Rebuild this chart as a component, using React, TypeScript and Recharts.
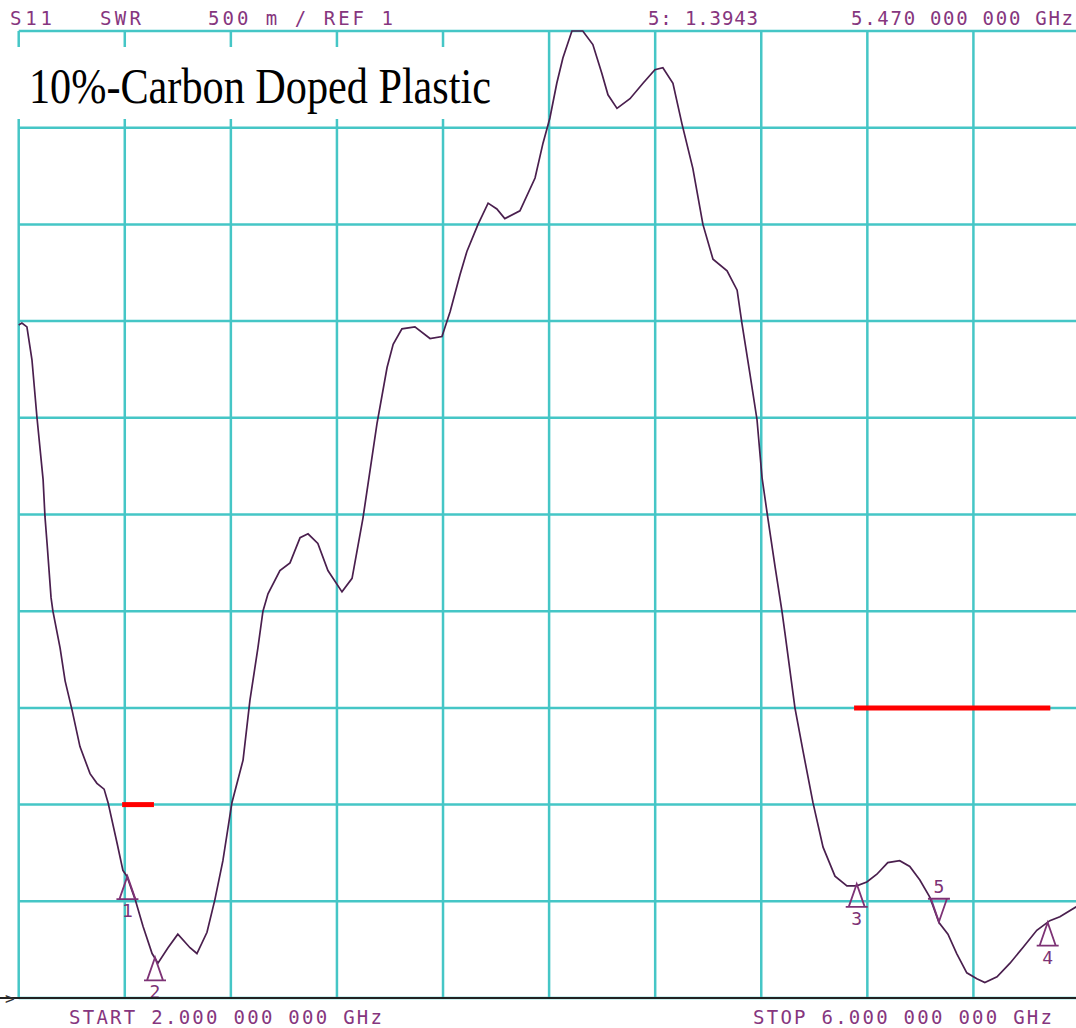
import React from 'react';
import { ComposedChart, Line, XAxis, YAxis, CartesianGrid, ReferenceDot, ReferenceLine } from 'recharts';

// S11 SWR trace, 2 - 6 GHz
const freqGHz = [
  2.000, 2.012, 2.031, 2.050, 2.069, 2.092, 2.099, 2.107, 2.122, 2.129,
  2.156, 2.175, 2.201, 2.231, 2.269, 2.295, 2.322, 2.337, 2.371, 2.393,
  2.408, 2.439, 2.469, 2.503, 2.525, 2.563, 2.600, 2.646, 2.672, 2.710,
  2.740, 2.770, 2.804, 2.846, 2.872, 2.902, 2.921, 2.940, 2.985, 3.023,
  3.061, 3.091, 3.128, 3.166, 3.219, 3.257, 3.298, 3.351, 3.389, 3.412,
  3.445, 3.494, 3.551, 3.596, 3.627, 3.664, 3.690, 3.732, 3.770, 3.803,
  3.833, 3.890, 3.947, 3.977, 4.003, 4.029, 4.052, 4.086, 4.127, 4.165,
  4.199, 4.222, 4.256, 4.305, 4.354, 4.399, 4.429, 4.467, 4.501, 4.542,
  4.580, 4.618, 4.671, 4.709, 4.727, 4.757, 4.784, 4.803, 4.825, 4.852,
  4.878, 4.889, 4.927, 4.957, 4.995, 5.033, 5.078, 5.123, 5.160, 5.198,
  5.236, 5.277, 5.322, 5.360, 5.398, 5.436, 5.470, 5.504, 5.537, 5.575,
  5.613, 5.643, 5.689, 5.738, 5.786, 5.839, 5.888, 5.926, 5.986, 6.000,
];

const swr = [
  4.48, 4.49, 4.47, 4.30, 4.00, 3.68, 3.49, 3.35, 3.07, 3.00,
  2.81, 2.64, 2.49, 2.30, 2.16, 2.11, 2.08, 2.01, 1.80, 1.66,
  1.63, 1.51, 1.37, 1.23, 1.18, 1.26, 1.33, 1.26, 1.23, 1.34,
  1.51, 1.71, 2.01, 2.23, 2.54, 2.81, 3.00, 3.09, 3.21, 3.25,
  3.38, 3.40, 3.35, 3.21, 3.10, 3.17, 3.48, 3.97, 4.26, 4.38,
  4.46, 4.47, 4.41, 4.42, 4.55, 4.74, 4.86, 5.00, 5.11, 5.08,
  5.03, 5.07, 5.24, 5.42, 5.55, 5.73, 5.86, 6.00, 6.00, 5.93,
  5.78, 5.67, 5.60, 5.65, 5.73, 5.80, 5.81, 5.73, 5.52, 5.29,
  5.00, 4.82, 4.76, 4.66, 4.49, 4.23, 3.99, 3.69, 3.48, 3.23,
  3.00, 2.89, 2.50, 2.28, 2.01, 1.78, 1.63, 1.58, 1.58, 1.60,
  1.64, 1.70, 1.71, 1.68, 1.61, 1.52, 1.39, 1.33, 1.23, 1.13,
  1.10, 1.08, 1.11, 1.18, 1.26, 1.35, 1.40, 1.42, 1.47, 1.48,
];

const markerIds = ['1', '2', '3', '4', '5'];
const markerFreq = [2.41, 2.514, 5.16, 5.88, 5.47];
const markerSwr = [1.63, 1.21, 1.59, 1.39, 1.3943];
const markerDown = [false, false, false, false, true];

const freqTicks = [2, 2.4, 2.8, 3.2, 3.6, 4, 4.4, 4.8, 5.2, 5.6, 6];
const swrTicks = [1, 1.5, 2, 2.5, 3, 3.5, 4, 4.5, 5, 5.5, 6];

// red limit bars drawn on the screenshot
const limitFrom = [2.39, 5.15];
const limitTo = [2.51, 5.89];
const limitSwr = [2.0, 2.5];

const curve = freqGHz.map((f, i) => ({ f, v: swr[i] }));

const W = 1076;
const H = 1028;
const PURPLE = '#86367e';
const MONO = '"DejaVu Sans Mono", monospace';

const MarkerShape = (props: any) => {
  const { cx, cy, id, down } = props;
  const color = '#7d3275';
  if (down) {
    const top = cy - 23;
    return (
      <g>
        <path
          d={`M${cx - 11},${top} L${cx + 11},${top} M${cx - 8},${top} L${cx},${cy} L${cx + 8},${top}`}
          stroke={color} strokeWidth={1.8} fill="none"
        />
        <text x={cx} y={top - 6} textAnchor="middle" fontFamily={MONO} fontSize={18} fill={color}>{id}</text>
      </g>
    );
  }
  const base = cy + 23;
  return (
    <g>
      <path
        d={`M${cx - 11},${base} L${cx + 11},${base} M${cx - 8},${base} L${cx},${cy} L${cx + 8},${base}`}
        stroke={color} strokeWidth={1.8} fill="none"
      />
      <text x={cx} y={base + 18} textAnchor="middle" fontFamily={MONO} fontSize={18} fill={color}>{id}</text>
    </g>
  );
};

export default function App() {
  return (
    <div style={{ position: 'absolute', left: 0, top: 0, width: W, height: H, overflow: 'hidden', background: '#fff' }}>
      <ComposedChart
        width={1090}
        height={H}
        data={curve}
        margin={{ top: 31, left: 18.7, right: 10.5, bottom: 30 }}
      >
        <CartesianGrid stroke="#45c6c6" strokeWidth={2.5} />
        <XAxis type="number" dataKey="f" domain={[2, 6]} ticks={freqTicks} hide />
        <YAxis type="number" domain={[1, 6]} ticks={swrTicks} hide />
        {limitSwr.map((y, i) => (
          <ReferenceLine
            key={`lim-${i}`}
            segment={[{ x: limitFrom[i], y }, { x: limitTo[i], y }]}
            stroke="#ff0000"
            strokeWidth={5}
          />
        ))}
        <Line
          type="linear"
          dataKey="v"
          stroke="#4a1f4e"
          strokeWidth={1.7}
          dot={false}
          isAnimationActive={false}
        />
        {markerIds.map((id, i) => (
          <ReferenceDot
            key={`m-${id}`}
            x={markerFreq[i]}
            y={markerSwr[i]}
            r={0}
            ifOverflow="visible"
            shape={(p: any) => <MarkerShape {...p} id={id} down={markerDown[i]} />}
          />
        ))}
      </ComposedChart>

      <svg width={W} height={H} style={{ position: 'absolute', left: 0, top: 0, pointerEvents: 'none' }}>
        <line x1={0} x2={W} y1={998} y2={998} stroke="#222" strokeWidth={2} />
        <text x={5} y={1004} fontFamily={MONO} fontSize={16} fill="#333">&gt;</text>

        <g fontFamily={MONO} fontSize={19} fill={PURPLE}>
          <text x={10} y={25} textLength={42} lengthAdjust="spacing">S11</text>
          <text x={100} y={25} textLength={41} lengthAdjust="spacing">SWR</text>
          <text x={208} y={25} textLength={185} lengthAdjust="spacing">500 m / REF 1</text>
          <text x={648} y={25} textLength={110} lengthAdjust="spacing">5: 1.3943</text>
          <text x={851} y={25} textLength={222} lengthAdjust="spacing">5.470 000 000 GHz</text>
          <text x={69} y={1024} textLength={313} lengthAdjust="spacing">START 2.000 000 000 GHz</text>
          <text x={753} y={1024} textLength={299} lengthAdjust="spacing">STOP 6.000 000 000 GHz</text>
        </g>

        <rect x={0} y={47} width={520} height={72} fill="#fff" />
        <text
          x={29}
          y={103}
          fontFamily='"Liberation Serif", "Times New Roman", serif'
          fontSize={50}
          fill="#000"
          textLength={462}
          lengthAdjust="spacingAndGlyphs"
        >
          10%-Carbon Doped Plastic
        </text>
      </svg>
    </div>
  );
}
